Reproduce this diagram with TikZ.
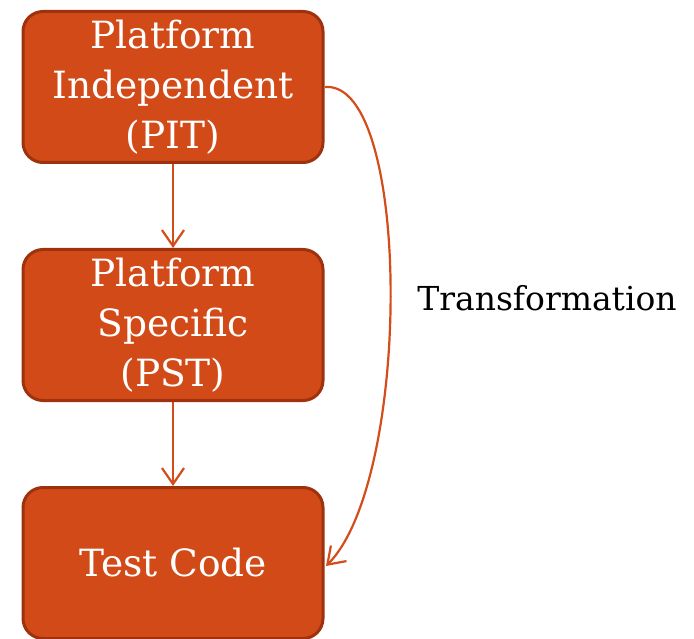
\documentclass[tikz,border=0pt]{standalone}
\usepackage{fontspec}
\setmainfont{DejaVu Serif}
\usetikzlibrary{arrows.meta}
\definecolor{boxfill}{RGB}{209,74,23}
\definecolor{boxedge}{RGB}{158,50,14}
\definecolor{linkcol}{RGB}{212,76,26}
\begin{document}
\begin{tikzpicture}[x=1pt,y=1pt,
  stage/.style={draw=boxedge, line width=3pt, fill=boxfill, rounded corners=20pt,
    minimum width=300pt, minimum height=151pt, align=center, text=white,
    font=\fontsize{37.5}{50}\selectfont, inner sep=0pt},
  link/.style={draw=linkcol, line width=2.2pt,
    -{Straight Barb[length=16pt,width=22pt,line width=2.2pt]}}]
\useasboundingbox (0,0) rectangle (694,-639);
\node[stage] (pit) at (173,-87) {Platform\\Independent\\(PIT)};
\node[stage] (pst) at (173,-325) {Platform\\Specific\\(PST)};
\node[stage] (code) at (173,-563) {Test Code};
\node[font=\fontsize{33}{40}\selectfont, anchor=center] (tr) at (547,-298) {Transformation};
\coordinate (out) at (325,-87);
\coordinate (in) at (326,-566);
\draw[link] (pit) -- (pst);
\draw[link] (pst) -- (code);
\draw[link] (out) .. controls (412,-80) and (412,-480) .. (in);
\end{tikzpicture}
\end{document}
